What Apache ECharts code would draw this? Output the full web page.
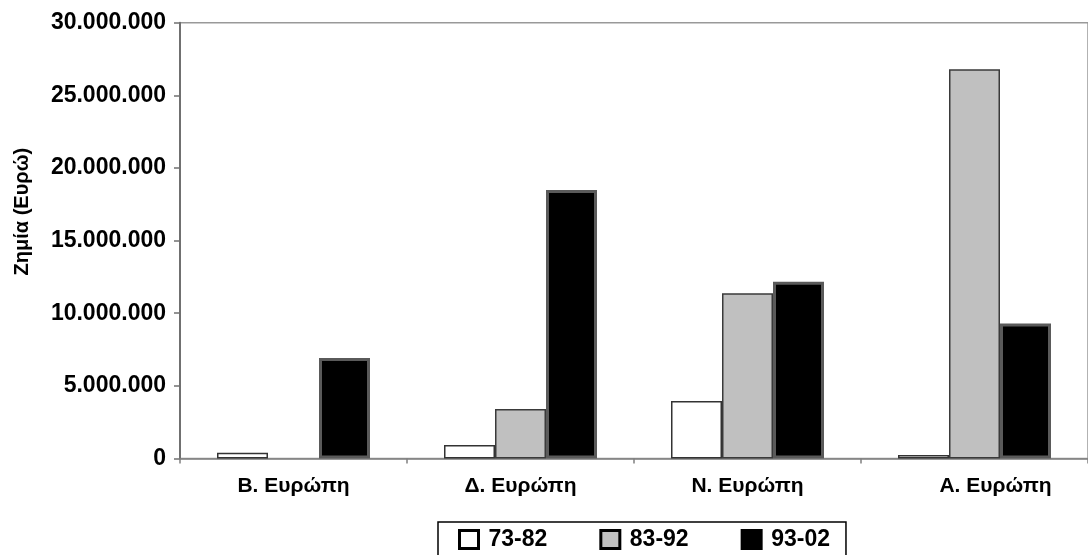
<!DOCTYPE html>
<html>
<head>
<meta charset="utf-8">
<script src="https://cdn.jsdelivr.net/npm/echarts@6/dist/echarts.min.js"></script>
<style>
html,body{margin:0;padding:0;background:#fff;}
#chart{width:1088px;height:555px;}
</style>
</head>
<body>
<div id="chart"></div>
<script>
const categories = ['Β. Ευρώπη', 'Δ. Ευρώπη', 'Ν. Ευρώπη', 'Α. Ευρώπη'];
const seriesNames = ['73-82', '83-92', '93-02'];
const values7382 = [400000, 930000, 3960000, 240000];
const values8392 = [null, 3410000, 11370000, 26800000];
const values9302 = [6920000, 18480000, 12170000, 9300000];
const yAxisName = 'Ζημία (Ευρώ)';

const FONT = '"Liberation Sans", Arial, sans-serif';
const fmt = v => String(v).replace(/\B(?=(\d{3})+(?!\d))/g, '.');

const chart = echarts.init(document.getElementById('chart'), null, {renderer: 'canvas'});
chart.setOption({
  animation: false,
  backgroundColor: '#ffffff',
  grid: {
    left: 180, top: 22.7, width: 916, bottom: 96.5,
    show: true, borderColor: '#999999', borderWidth: 1.5, backgroundColor: '#ffffff'
  },
  legend: {
    left: 438, top: 522,
    data: seriesNames,
    orient: 'horizontal',
    itemWidth: 19, itemHeight: 18, itemGap: 52,
    padding: [6, 16, 8, 20],
    borderColor: '#000', borderWidth: 1.5,
    icon: 'rect',
    itemStyle: {borderColor: '#000', borderWidth: 3},
    textStyle: {fontFamily: FONT, fontWeight: 'bold', fontSize: 23, color: '#000', padding: [0, 0, 0, 5]}
  },
  xAxis: {
    type: 'category',
    data: categories,
    axisLine: {show: true, lineStyle: {color: '#808080', width: 1.5}},
    axisTick: {show: true, length: 5, lineStyle: {color: '#808080', width: 1.5}},
    axisLabel: {
      margin: 17,
      fontFamily: FONT, fontWeight: 'bold', fontSize: 21, color: '#000',
      formatter: (v, i) => i === 3 ? '{s|' + v + '}' : v,
      rich: {s: {fontFamily: FONT, fontWeight: 'bold', fontSize: 21, color: '#000', padding: [0, 0, 0, 42]}}
    },
    splitLine: {show: false}
  },
  yAxis: {
    type: 'value',
    min: 0, max: 30000000, interval: 5000000,
    name: yAxisName,
    nameLocation: 'middle',
    nameGap: 148,
    nameRotate: 90,
    nameTextStyle: {fontFamily: FONT, fontWeight: 'bold', fontSize: 20, color: '#000', padding: [0, 0, 0, 58]},
    axisLine: {show: true, lineStyle: {color: '#707070', width: 2}},
    axisTick: {show: true, length: 6, lineStyle: {color: '#707070', width: 1.5}},
    axisLabel: {margin: 14, fontFamily: FONT, fontWeight: 'bold', fontSize: 23, color: '#000', formatter: fmt},
    splitLine: {show: false}
  },
  series: [
    {name: seriesNames[0], type: 'bar', data: values7382, barWidth: 51, barGap: '0%',
     itemStyle: {color: '#ffffff', borderColor: '#333333', borderWidth: 1.5}},
    {name: seriesNames[1], type: 'bar', data: values8392, barWidth: 51, barGap: '0%',
     itemStyle: {color: '#c0c0c0', borderColor: '#3a3a3a', borderWidth: 1.5}},
    {name: seriesNames[2], type: 'bar', data: values9302, barWidth: 51, barGap: '0%',
     itemStyle: {color: '#000000', borderColor: '#5a5a5a', borderWidth: 3}}
  ]
});
</script>
</body>
</html>
